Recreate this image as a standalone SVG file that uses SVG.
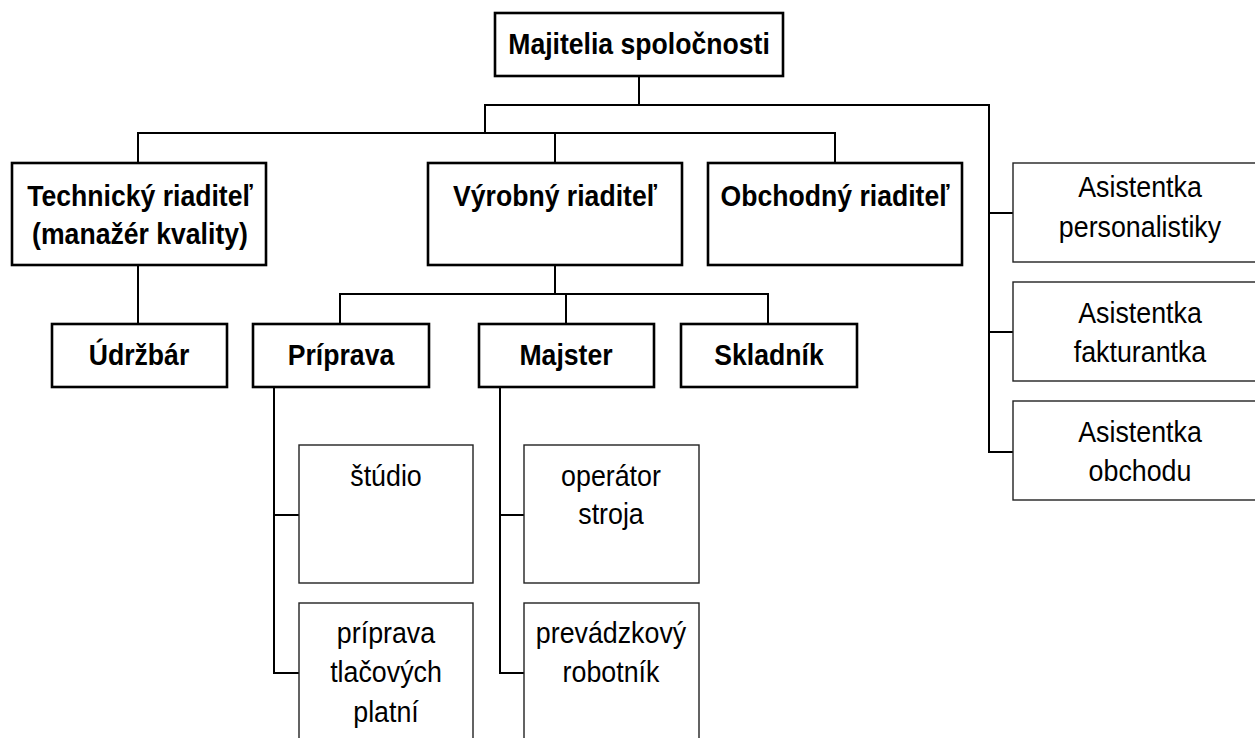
<svg xmlns="http://www.w3.org/2000/svg" width="1255" height="738" viewBox="0 0 1255 738">
<style>
.bb{fill:#fff;stroke:#000;stroke-width:2.6}
.tb{fill:#fff;stroke:#222;stroke-width:1.4}
.c{fill:none;stroke:#000;stroke-width:2;stroke-linecap:square}
.b{font-family:"Liberation Sans",Arial,sans-serif;font-weight:bold;font-size:26.6px;text-anchor:middle;fill:#000}
.r{font-family:"Liberation Sans",Arial,sans-serif;font-size:26.8px;text-anchor:middle;fill:#000}
</style>
<rect width="1255" height="738" fill="#fff"/>
<g id="connectors">
<path class="c" d="M639,76V105M485,105H989M485,105V133M138,133H835M138,133V163M555,133V163M835,133V163"/>
<path class="c" d="M989,105V452M989,213H1013M989,332H1013M989,452H1013"/>
<path class="c" d="M138,265V324M555,265V294M340,294H768M340,294V324M566,294V324M768,294V324"/>
<path class="c" d="M274,387V673M274,515H299M274,673H299M500,387V673M500,515H524M500,673H524"/>
</g>
<g id="owner">
<rect class="bb" x="495" y="13" width="288" height="63"/>
<text class="b" transform="translate(639,54) scale(1,1.12)">Majitelia spoločnosti</text>
</g>
<g id="technicky">
<rect class="bb" x="12" y="163" width="254" height="102"/>
<text class="b" transform="translate(140,206) scale(1,1.12)">Technický riaditeľ</text>
<text class="b" transform="translate(140,244) scale(1,1.12)">(manažér kvality)</text>
</g>
<g id="vyrobny">
<rect class="bb" x="428" y="163" width="254" height="102"/>
<text class="b" transform="translate(555,206) scale(1,1.12)">Výrobný riaditeľ</text>
</g>
<g id="obchodny">
<rect class="bb" x="708" y="163" width="254" height="102"/>
<text class="b" transform="translate(835,206) scale(1,1.12)">Obchodný riaditeľ</text>
</g>
<g id="udrzbar">
<rect class="bb" x="52" y="324" width="175" height="63"/>
<text class="b" transform="translate(139,365) scale(1,1.12)">Údržbár</text>
</g>
<g id="priprava">
<rect class="bb" x="253" y="324" width="176" height="63"/>
<text class="b" transform="translate(341,365) scale(1,1.12)">Príprava</text>
</g>
<g id="majster">
<rect class="bb" x="479" y="324" width="175" height="63"/>
<text class="b" transform="translate(566,365) scale(1,1.12)">Majster</text>
</g>
<g id="skladnik">
<rect class="bb" x="681" y="324" width="176" height="63"/>
<text class="b" transform="translate(769,365) scale(1,1.12)">Skladník</text>
</g>
<g id="asist-personal">
<rect class="tb" x="1013" y="163" width="254" height="99"/>
<text class="r" transform="translate(1140,197) scale(1,1.1)">Asistentka</text>
<text class="r" transform="translate(1140,237) scale(1,1.1)">personalistiky</text>
</g>
<g id="asist-faktur">
<rect class="tb" x="1013" y="282" width="254" height="99"/>
<text class="r" transform="translate(1140,323) scale(1,1.1)">Asistentka</text>
<text class="r" transform="translate(1140,362) scale(1,1.1)">fakturantka</text>
</g>
<g id="asist-obchod">
<rect class="tb" x="1013" y="401" width="254" height="99"/>
<text class="r" transform="translate(1140,442) scale(1,1.1)">Asistentka</text>
<text class="r" transform="translate(1140,481) scale(1,1.1)">obchodu</text>
</g>
<g id="studio">
<rect class="tb" x="299" y="445" width="174" height="138"/>
<text class="r" transform="translate(386,486) scale(1,1.1)">štúdio</text>
</g>
<g id="priprava-platni">
<rect class="tb" x="299" y="603" width="174" height="150"/>
<text class="r" transform="translate(386,643) scale(1,1.1)">príprava</text>
<text class="r" transform="translate(386,682) scale(1,1.1)">tlačových</text>
<text class="r" transform="translate(386,722) scale(1,1.1)">platní</text>
</g>
<g id="operator">
<rect class="tb" x="524" y="445" width="175" height="138"/>
<text class="r" transform="translate(611,486) scale(1,1.1)">operátor</text>
<text class="r" transform="translate(611,524) scale(1,1.1)">stroja</text>
</g>
<g id="robotnik">
<rect class="tb" x="524" y="603" width="175" height="150"/>
<text class="r" transform="translate(611,643) scale(1,1.1)">prevádzkový</text>
<text class="r" transform="translate(611,682) scale(1,1.1)">robotník</text>
</g>
</svg>
